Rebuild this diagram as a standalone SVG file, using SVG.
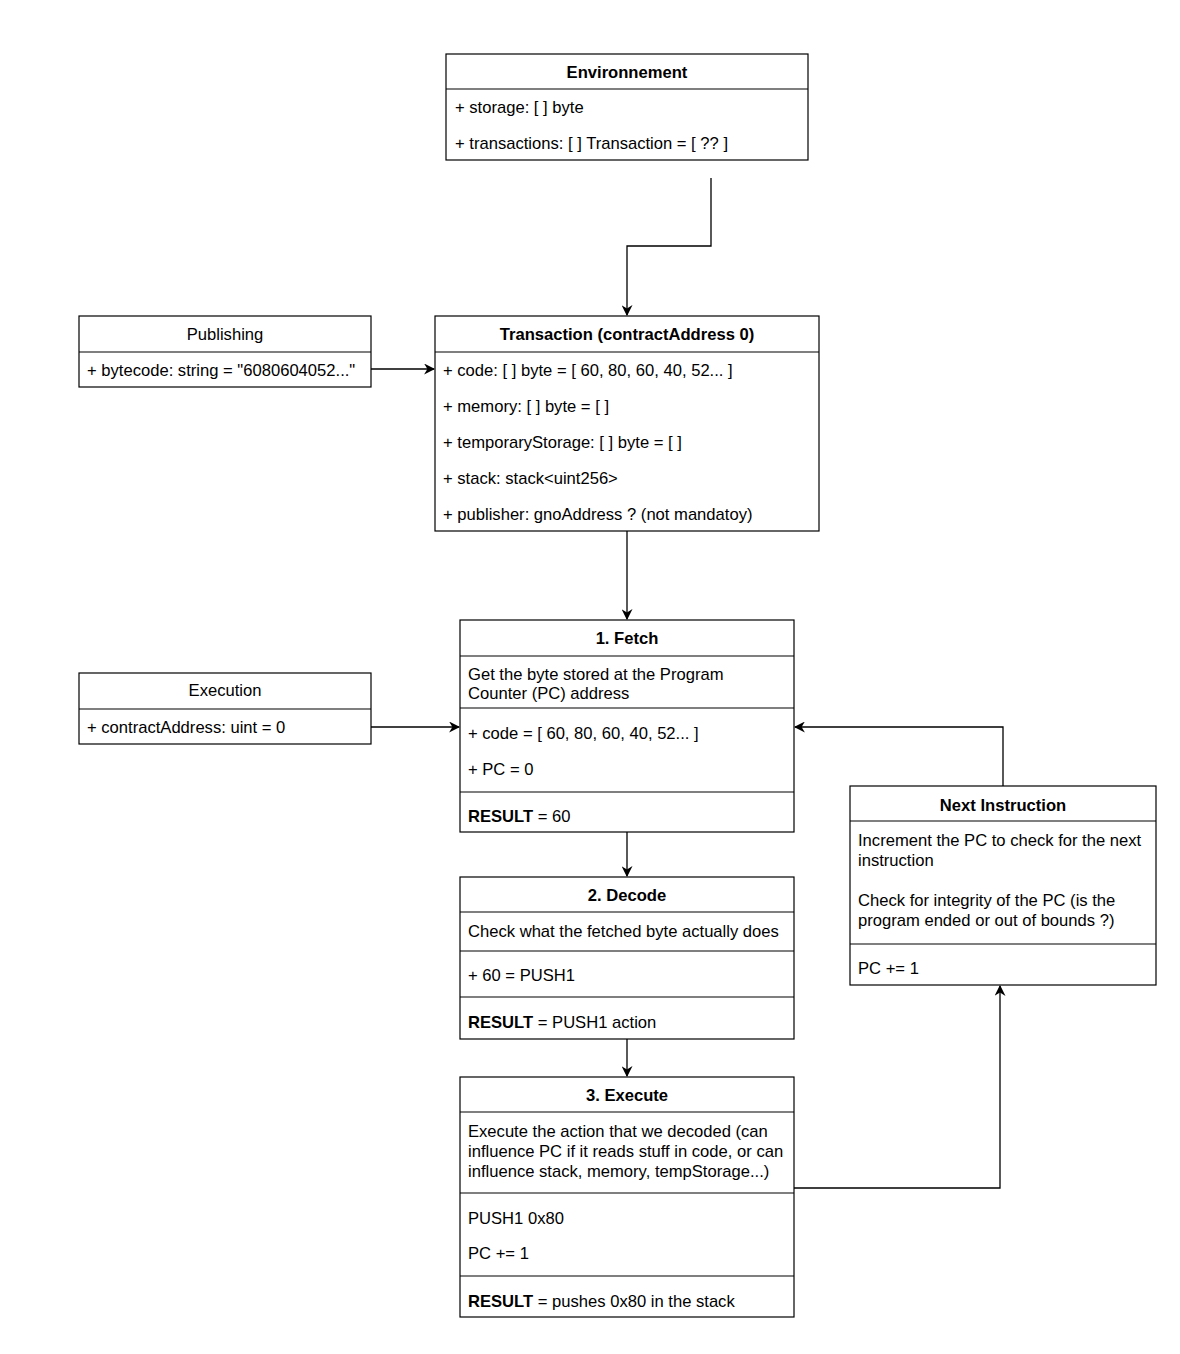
<svg xmlns="http://www.w3.org/2000/svg" width="1180" height="1354" viewBox="0 0 1180 1354">
<style>
.box{fill:#fff;stroke:#000;stroke-width:1.2}
.sep{stroke:#000;stroke-width:1.2}
text{font-family:"Liberation Sans",Arial,sans-serif;font-size:16.6px;fill:#000}
.h{text-anchor:middle}
.b{font-weight:bold}
.c{fill:none;stroke:#000;stroke-width:1.3}
</style>
<defs>
<marker id="ar" viewBox="0 0 10 10" refX="9" refY="5" markerWidth="11" markerHeight="11" markerUnits="userSpaceOnUse" orient="auto">
<path d="M0,0 L10,5 L0,10 L3,5 Z" fill="#000"/>
</marker>
</defs>
<rect width="1180" height="1354" fill="#fff"/>
<g id="connectors">
<path class="c" d="M711,178 V246 H627 V315" marker-end="url(#ar)"/>
<path class="c" d="M371,369 H434" marker-end="url(#ar)"/>
<path class="c" d="M627,531 V619" marker-end="url(#ar)"/>
<path class="c" d="M371,727 H459" marker-end="url(#ar)"/>
<path class="c" d="M1003,786 V727 H795" marker-end="url(#ar)"/>
<path class="c" d="M627,832 V876" marker-end="url(#ar)"/>
<path class="c" d="M627,1039 V1076" marker-end="url(#ar)"/>
<path class="c" d="M794,1188 H1000 V986" marker-end="url(#ar)"/>
</g>
<g id="environnement">
<rect class="box" x="446" y="54" width="362" height="106"/>
<line class="sep" x1="446" y1="89" x2="808" y2="89"/>
<text class="h b" x="627" y="78">Environnement</text>
<text x="455" y="113">+ storage: [ ] byte</text>
<text x="455" y="149">+ transactions: [ ] Transaction = [ ?? ]</text>
</g>
<g id="publishing">
<rect class="box" x="79" y="316" width="292" height="71"/>
<line class="sep" x1="79" y1="352" x2="371" y2="352"/>
<text class="h" x="225" y="340">Publishing</text>
<text x="87" y="376">+ bytecode: string = "6080604052..."</text>
</g>
<g id="transaction">
<rect class="box" x="435" y="316" width="384" height="215"/>
<line class="sep" x1="435" y1="352" x2="819" y2="352"/>
<text class="h b" x="627" y="340">Transaction (contractAddress 0)</text>
<text x="443" y="376">+ code: [ ] byte = [ 60, 80, 60, 40, 52... ]</text>
<text x="443" y="412">+ memory: [ ] byte = [ ]</text>
<text x="443" y="448">+ temporaryStorage: [ ] byte = [ ]</text>
<text x="443" y="484">+ stack: stack&lt;uint256&gt;</text>
<text x="443" y="520">+ publisher: gnoAddress ? (not mandatoy)</text>
</g>
<g id="execution">
<rect class="box" x="79" y="673" width="292" height="71"/>
<line class="sep" x1="79" y1="709" x2="371" y2="709"/>
<text class="h" x="225" y="696">Execution</text>
<text x="87" y="733">+ contractAddress: uint = 0</text>
</g>
<g id="fetch">
<rect class="box" x="460" y="620" width="334" height="212"/>
<line class="sep" x1="460" y1="656" x2="794" y2="656"/>
<line class="sep" x1="460" y1="708" x2="794" y2="708"/>
<line class="sep" x1="460" y1="792" x2="794" y2="792"/>
<text class="h b" x="627" y="644">1. Fetch</text>
<text x="468" y="680">Get the byte stored at the Program</text>
<text x="468" y="699">Counter (PC) address</text>
<text x="468" y="739">+ code = [ 60, 80, 60, 40, 52... ]</text>
<text x="468" y="775">+ PC = 0</text>
<text x="468" y="822"><tspan class="b">RESULT</tspan> = 60</text>
</g>
<g id="decode">
<rect class="box" x="460" y="877" width="334" height="162"/>
<line class="sep" x1="460" y1="912" x2="794" y2="912"/>
<line class="sep" x1="460" y1="951" x2="794" y2="951"/>
<line class="sep" x1="460" y1="997" x2="794" y2="997"/>
<text class="h b" x="627" y="901">2. Decode</text>
<text x="468" y="937">Check what the fetched byte actually does</text>
<text x="468" y="981">+ 60 = PUSH1</text>
<text x="468" y="1028"><tspan class="b">RESULT</tspan> = PUSH1 action</text>
</g>
<g id="execute">
<rect class="box" x="460" y="1077" width="334" height="240"/>
<line class="sep" x1="460" y1="1112" x2="794" y2="1112"/>
<line class="sep" x1="460" y1="1193" x2="794" y2="1193"/>
<line class="sep" x1="460" y1="1276" x2="794" y2="1276"/>
<text class="h b" x="627" y="1101">3. Execute</text>
<text x="468" y="1137">Execute the action that we decoded (can</text>
<text x="468" y="1157">influence PC if it reads stuff in code, or can</text>
<text x="468" y="1177">influence stack, memory, tempStorage...)</text>
<text x="468" y="1224">PUSH1 0x80</text>
<text x="468" y="1259">PC += 1</text>
<text x="468" y="1307"><tspan class="b">RESULT</tspan> = pushes 0x80 in the stack</text>
</g>
<g id="next-instruction">
<rect class="box" x="850" y="786" width="306" height="199"/>
<line class="sep" x1="850" y1="821" x2="1156" y2="821"/>
<line class="sep" x1="850" y1="944" x2="1156" y2="944"/>
<text class="h b" x="1003" y="811">Next Instruction</text>
<text x="858" y="846">Increment the PC to check for the next</text>
<text x="858" y="866">instruction</text>
<text x="858" y="906">Check for integrity of the PC (is the</text>
<text x="858" y="926">program ended or out of bounds ?)</text>
<text x="858" y="974">PC += 1</text>
</g>
</svg>
